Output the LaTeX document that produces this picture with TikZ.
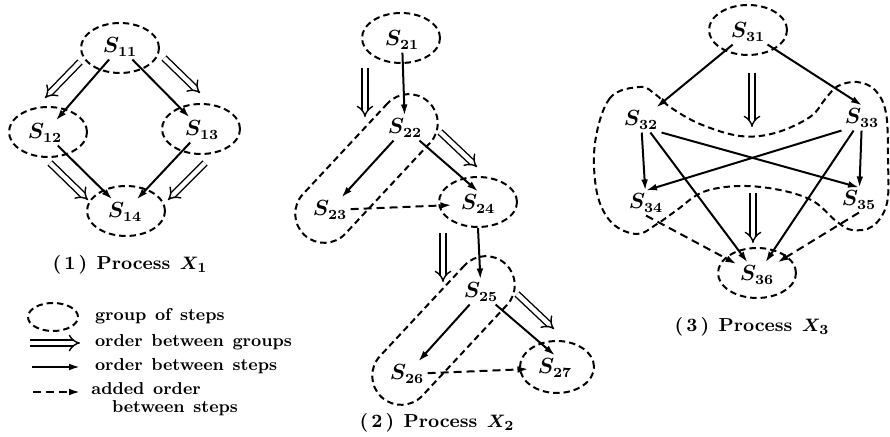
\documentclass[tikz,border=0pt]{standalone}
\usetikzlibrary{shapes.geometric,arrows.meta}

\begin{document}
\begin{tikzpicture}[x=0.5pt, y=-0.5pt,
    every node/.style={font=\bfseries\boldmath\fontsize{8.6}{10}\selectfont},
    lbl/.style={inner sep=1.5pt, font=\bfseries\boldmath\fontsize{10.5}{12}\selectfont},
    grp/.style={draw, ellipse, line width=1pt, dash pattern=on 3.2pt off 2pt,
                minimum width=39pt, minimum height=25pt, inner sep=0pt},
    band/.style={draw, rectangle, rounded corners=14.5pt, line width=1pt,
                 dash pattern=on 3.2pt off 2pt, minimum width=91pt,
                 minimum height=29pt, rotate=47, inner sep=0pt},
    stp/.style={-{Latex[length=5.5pt,width=3.4pt]}, line width=1pt},
    addstp/.style={stp, dash pattern=on 4pt off 2.5pt},
    ord/.style={double, double distance=2.2pt, line width=0.7pt,
                -{Implies[length=4.5pt,width=9pt]}},
    capt/.style={font=\bfseries\boldmath\fontsize{9.4}{11}\selectfont},
  ]
  \useasboundingbox (0,0) rectangle (890,437);

  %% =========================================================
  %% (1) PROCESS X1 -- four groups, one step each
  %% =========================================================
  \node[grp] (g11) at (120,48) {};
  \node[grp] (g12) at (48,132) {};
  \node[grp] (g13) at (201,129) {};
  \node[grp] (g14) at (126,211) {};

  \node[lbl] (s11) at (120,47)  {$S_{11}$};
  \node[lbl] (s12) at (45,133)  {$S_{12}$};
  \node[lbl] (s13) at (202,130) {$S_{13}$};
  \node[lbl] (s14) at (125,212) {$S_{14}$};

  \draw[stp] (s11) -- (s12);
  \draw[stp] (s11) -- (s13);
  \draw[stp] (s12) -- (s14);
  \draw[stp] (s13) -- (s14);

  % order between groups
  \coordinate (o1a) at (80,62);   \coordinate (o1b) at (45,98);
  \coordinate (o2a) at (164,58);  \coordinate (o2b) at (200,93);
  \coordinate (o3a) at (50,163);  \coordinate (o3b) at (88,200);
  \coordinate (o4a) at (205,163); \coordinate (o4b) at (168,200);
  \draw[ord] (o1a) -- (o1b);
  \draw[ord] (o2a) -- (o2b);
  \draw[ord] (o3a) -- (o3b);
  \draw[ord] (o4a) -- (o4b);

  \node[capt] (cap1) at (130,265) {(\,1\,)\enspace Process\enspace $X_1$};

  %% LEGEND
  \node[grp, minimum width=25pt, minimum height=14pt] (lgrp) at (53,317) {};
  \node[anchor=west] (ltx1) at (88,316) {group\enspace of\enspace steps};

  \coordinate (lo1) at (30,343); \coordinate (lo2) at (80,343);
  \draw[ord] (lo1) -- (lo2);
  \node[anchor=west] (ltx2) at (88,342) {order\enspace between\enspace groups};

  \coordinate (ls1) at (32,367); \coordinate (ls2) at (80,367);
  \draw[stp] (ls1) -- (ls2);
  \node[anchor=west] (ltx3) at (88,366) {order\enspace between\enspace steps};

  \coordinate (la1) at (33,392); \coordinate (la2) at (80,392);
  \draw[addstp] (la1) -- (la2);
  \node[anchor=north west, align=left, inner sep=0pt] (ltx4) at (91,382)
    {added\enspace order\\[-1pt]\hspace*{1.2em}between\enspace steps};

  %% =========================================================
  %% (2) PROCESS X2 -- bands hold two steps each
  %% =========================================================
  \node[grp] (g21) at (401,38) {};
  \node[band] (g2a) at (366.5,168.5) {};
  \node[grp] (g24) at (478,202) {};
  \node[band] (g2b) at (443.5,330.5) {};
  \node[grp, minimum width=37pt, minimum height=26pt] (g27) at (557,367) {};

  \node[lbl] (s21) at (402,40)  {$S_{21}$};
  \node[lbl] (s22) at (405,128) {$S_{22}$};
  \node[lbl] (s23) at (330,210) {$S_{23}$};
  \node[lbl] (s24) at (478,204) {$S_{24}$};
  \node[lbl] (s25) at (481,292) {$S_{25}$};
  \node[lbl] (s26) at (407,374) {$S_{26}$};
  \node[lbl] (s27) at (555,368) {$S_{27}$};

  \draw[stp] (s21) -- (s22);
  \draw[stp] (s22) -- (s23);
  \draw[stp] (s22) -- (s24.north);
  \draw[addstp, shorten >=3pt] (s23) -- (s24);
  \draw[stp] (g24.south) -- (s25);
  \draw[stp] (s25) -- (s26);
  \draw[stp] (s25) -- (s27.north);
  \draw[addstp, shorten >=3pt] (s26) -- (s27);

  \coordinate (o5a) at (365,68);  \coordinate (o5b) at (365,117);
  \coordinate (o6a) at (440,132); \coordinate (o6b) at (477,167);
  \coordinate (o7a) at (443,233); \coordinate (o7b) at (443,282);
  \coordinate (o8a) at (517,294); \coordinate (o8b) at (554,329);
  \draw[ord] (o5a) -- (o5b);
  \draw[ord] (o6a) -- (o6b);
  \draw[ord] (o7a) -- (o7b);
  \draw[ord] (o8a) -- (o8b);

  \node[capt] (cap2) at (437,423) {(\,2\,)\enspace Process\enspace $X_2$};

  %% =========================================================
  %% (3) PROCESS X3 -- one ring round S32..S35
  %% =========================================================
  \node[grp] (g31) at (748,30) {};
  \node[grp] (g36) at (757,273) {};
  \draw[line width=1pt, dash pattern=on 3.2pt off 2pt]
    plot[smooth cycle, tension=0.6] coordinates {
      (640,87) (610,98) (595,143) (597,193) (612,223) (637,234) (657,224)
      (677,210) (703,192) (740,186) (780,190) (813,201) (836,221) (852,230)
      (873,226) (887,203) (888,160) (886,113) (875,90) (857,82) (838,86)
      (826,98) (810,117) (775,133) (740,136) (700,124) (670,107) (655,94)};

  \node[lbl] (s31) at (748,32)  {$S_{31}$};
  \node[lbl] (s32) at (641,120) {$S_{32}$};
  \node[lbl] (s33) at (862,118) {$S_{33}$};
  \node[lbl] (s34) at (646,203) {$S_{34}$};
  \node[lbl] (s35) at (859,200) {$S_{35}$};
  \node[lbl] (s36) at (757,275) {$S_{36}$};

  \draw[stp] (s31) -- (s32);
  \draw[stp] (s31) -- (s33.north);
  \draw[stp] (s32) -- (s34);
  \draw[stp] (s33) -- (s35);
  \draw[stp] (s32.south east) -- (s35.north);
  \draw[stp] (s33.south west) -- (s34.north);
  \draw[stp] (s32) -- (s36);
  \draw[stp] (s33) -- (s36);
  \draw[addstp] (s34.south) -- (s36);
  \draw[addstp] (s35.south) -- (s36);

  \coordinate (o9a) at (752,73);   \coordinate (o9b) at (752,127);
  \coordinate (o10a) at (753,193); \coordinate (o10b) at (753,243);
  \draw[ord] (o9a) -- (o9b);
  \draw[ord] (o10a) -- (o10b);

  \node[capt] (cap3) at (752,327) {(\,3\,)\enspace Process\enspace $X_3$};

\end{tikzpicture}
\end{document}
